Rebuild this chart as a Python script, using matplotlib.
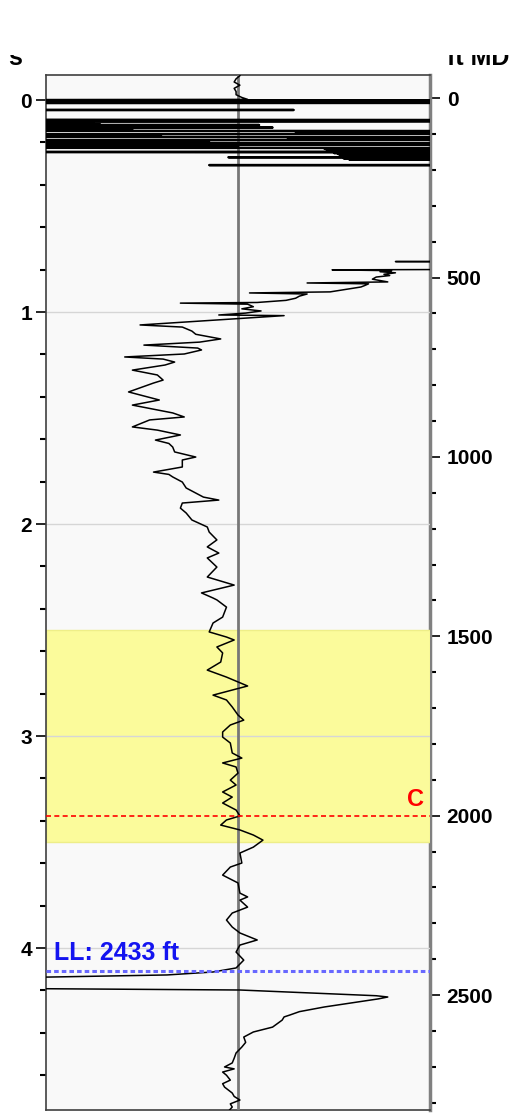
import numpy as np
import matplotlib.pyplot as plt
from matplotlib.patches import Rectangle
from matplotlib.ticker import MultipleLocator, FixedLocator

plt.rcParams['font.family'] = ['Liberation Sans', 'DejaVu Sans']

# log readings as (time s, amplitude); amplitude axis runs -100..100
head = [(-0.115, 1), (-0.100, -1), (-0.085, -2), (-0.070, 1), (-0.055, -2),
        (-0.040, -1), (-0.025, -1), (-0.012, 2), (-0.003, 5)]

# shallow noisy zone, values far outside the track
spikes = [(0.000, -300), (0.0015, 300), (0.003, -300), (0.0045, 300), (0.006, -300),
          (0.0075, 300), (0.009, -300), (0.0105, 300), (0.012, -300), (0.0135, 300),
          (0.015, -300),
          (0.045, -300), (0.047, 29), (0.049, -300),
          (0.092, -300), (0.095, 300), (0.100, 300), (0.104, -300),
          (0.106, -78), (0.108, -300), (0.110, -75), (0.112, -300), (0.114, -72),
          (0.116, -300), (0.118, 11), (0.120, -300), (0.122, -70), (0.124, -300),
          (0.126, -68), (0.128, -300), (0.130, 18), (0.132, -300), (0.134, -65),
          (0.136, -300), (0.138, -60), (0.140, -300), (0.142, -55), (0.144, -300),
          (0.147, 300), (0.149, 49), (0.151, 300), (0.153, 45), (0.155, 300),
          (0.157, 30), (0.159, 300),
          (0.161, -300), (0.163, -46), (0.165, -300), (0.167, -44), (0.169, -300),
          (0.171, -40), (0.173, -300),
          (0.175, 300), (0.177, 28), (0.179, 300), (0.181, 26), (0.183, 300),
          (0.185, 30), (0.187, 300),
          (0.189, -300), (0.191, -30), (0.193, -300), (0.195, -20), (0.197, -300),
          (0.199, -15), (0.201, -300),
          (0.203, 300), (0.205, 40), (0.207, 300), (0.209, 45), (0.211, 300),
          (0.213, -300), (0.215, -8), (0.217, -300), (0.219, -6), (0.221, -300),
          (0.223, 0), (0.225, -300),
          (0.227, 300), (0.229, 45), (0.231, 300), (0.233, 46), (0.235, 300),
          (0.237, 48), (0.239, 300), (0.241, 47), (0.243, 300),
          (0.245, -300), (0.248, 300),
          (0.250, 50), (0.252, 300), (0.254, 52), (0.256, 300), (0.258, 55),
          (0.260, 300), (0.262, 53), (0.264, 300), (0.266, 56), (0.268, 300),
          (0.270, -5), (0.272, 300), (0.275, 55), (0.278, 300), (0.281, 58),
          (0.284, 300), (0.305, 300), (0.307, -15), (0.309, 300), (0.760, 300)]

sawtooth = [(0.762, 82), (0.765, 300), (0.795, 300), (0.801, 49), (0.805, 80),
            (0.810, 74), (0.815, 82), (0.822, 76), (0.828, 79), (0.835, 72),
            (0.845, 70), (0.858, 78), (0.863, 36), (0.867, 68), (0.875, 66),
            (0.882, 64), (0.905, 48), (0.910, 6), (0.915, 36), (0.925, 32),
            (0.935, 30), (0.945, 25), (0.955, 10), (0.958, -30), (0.963, 5),
            (0.975, 8), (0.985, 2), (0.995, 12), (1.005, 4), (1.014, -10),
            (1.017, 24), (1.061, -51)]

trace = [(1.071, -29), (1.090, -24), (1.105, -22), (1.127, -9), (1.142, -20),
         (1.156, -49), (1.170, -21), (1.179, -19), (1.198, -28), (1.212, -59),
         (1.222, -39), (1.236, -33), (1.250, -38), (1.274, -55), (1.297, -42),
         (1.321, -39), (1.335, -44), (1.377, -57), (1.415, -41), (1.439, -55),
         (1.476, -34), (1.495, -28), (1.509, -46), (1.542, -55), (1.557, -42),
         (1.580, -30), (1.604, -43), (1.620, -36), (1.637, -34), (1.660, -33),
         (1.684, -22), (1.698, -29), (1.731, -29), (1.755, -44), (1.766, -36),
         (1.778, -34), (1.802, -29), (1.830, -27), (1.873, -18), (1.887, -10),
         (1.901, -29), (1.925, -30), (1.948, -27), (1.981, -24), (2.014, -16),
         (2.038, -15), (2.075, -11), (2.108, -16), (2.137, -10), (2.160, -16),
         (2.203, -11), (2.250, -16), (2.288, -2), (2.325, -19), (2.349, -13),
         (2.358, -11), (2.392, -6), (2.439, -8), (2.467, -13), (2.509, -15),
         (2.533, -6), (2.547, -2), (2.580, -11), (2.608, -8), (2.651, -9),
         (2.689, -16), (2.722, -6), (2.745, 0), (2.764, 5), (2.783, -3),
         (2.807, -13), (2.830, -6), (2.863, -3), (2.901, 0), (2.925, 3),
         (2.948, -4), (2.981, -8), (3.005, -8), (3.033, -4), (3.080, -3),
         (3.104, 2), (3.127, -8), (3.146, -1), (3.175, 0), (3.208, -4),
         (3.231, -1), (3.264, -8), (3.288, -3), (3.316, -8), (3.349, -1),
         (3.377, 1), (3.396, -6), (3.420, -9), (3.443, 1), (3.467, 8),
         (3.491, 13), (3.524, 8), (3.552, 1), (3.599, 2), (3.618, -4),
         (3.656, -8), (3.693, 0), (3.741, 1), (3.759, 5), (3.774, 1),
         (3.807, 5), (3.835, -3), (3.868, -6), (3.901, -3), (3.929, 1),
         (3.962, 10), (3.986, 1), (4.019, -1), (4.057, 3), (4.094, -1)]

tail = [(4.113, -13), (4.127, -37), (4.137, -99), (4.145, -300), (4.180, -300),
        (4.198, 1), (4.215, 45), (4.225, 72), (4.231, 78), (4.240, 73),
        (4.255, 62), (4.278, 45), (4.300, 32), (4.316, 27), (4.325, 24),
        (4.340, 23), (4.373, 18), (4.396, 8), (4.420, 3), (4.445, 4),
        (4.467, 2), (4.495, -1), (4.520, -2), (4.542, -3), (4.561, -7),
        (4.570, -2), (4.585, -8), (4.600, -6), (4.623, -4), (4.640, -8),
        (4.656, -7), (4.684, -3), (4.700, -2), (4.717, 1), (4.735, -4),
        (4.750, -3), (4.770, -5)]

time_ticks = [0, 1, 2, 3, 4]
depth_ticks = [0, 500, 1000, 1500, 2000, 2500]
zone_top, zone_base = 2.5, 3.5
marker_c_ft = 2000
ll_ft = 2433


# time-depth relation for the right axis
def t_to_ft(t):
    return 591.0 * np.asarray(t) + 5.0


def ft_to_t(d):
    return (np.asarray(d) - 5.0) / 591.0


log = np.array(head + spikes + sawtooth + trace + tail)
noisy = np.array(spikes)

fig = plt.figure(figsize=(5.14, 11.13), dpi=100)
ax = fig.add_axes([46 / 514, 3 / 1113, 384 / 514, 1035 / 1113])
ax.set_facecolor('#f9f9f9')
ax.set_xlim(-100, 100)
ax.set_ylim(4.764, -0.118)

ax.axhspan(zone_top, zone_base, facecolor='#fbfb9b', edgecolor='#eeee88', lw=1, zorder=1)
for t in time_ticks[1:]:
    ax.axhline(t, color='#d6d6d6', lw=1, zorder=2)
ax.axvline(0, color='#777777', lw=2, zorder=3)
ax.plot(log[:, 1], log[:, 0], color='black', lw=1.1, zorder=4)
# the shallow noise reads as solid blocks
ax.plot(noisy[:, 1], noisy[:, 0], color='black', lw=1.7, zorder=4)

c_t = float(ft_to_t(marker_c_ft))
ax.axhline(c_t, color='red', ls=(0, (3, 2)), lw=1.2, zorder=5)
ax.text(97, c_t - 0.047, 'C', color='red', fontsize=17, fontweight='bold',
        ha='right', va='baseline', zorder=6)

ll_t = float(ft_to_t(ll_ft))
ax.axhline(ll_t, color='#6868ff', ls=(0, (1.5, 1)), lw=2.2, zorder=5)
ax.text(-96, ll_t - 0.052, f'LL: {ll_ft} ft', color='#1414f0', fontsize=18,
        fontweight='bold', ha='left', va='baseline', zorder=6)

# left axis (time)
ax.set_xticks([])
ax.yaxis.set_major_locator(FixedLocator(time_ticks))
ax.yaxis.set_minor_locator(MultipleLocator(0.2))
ax.tick_params(axis='y', which='major', length=7, width=1.2, pad=3, labelsize=15)
ax.tick_params(axis='y', which='minor', length=4, width=1.5)
for lab in ax.get_yticklabels():
    lab.set_fontweight('bold')
for s in ['left', 'top', 'bottom']:
    ax.spines[s].set_color('#404040')
    ax.spines[s].set_linewidth(1.2)
ax.spines['right'].set_visible(False)

# right axis (measured depth)
sec = ax.secondary_yaxis('right', functions=(t_to_ft, ft_to_t))
sec.yaxis.set_major_locator(FixedLocator(depth_ticks))
sec.yaxis.set_minor_locator(MultipleLocator(100))
sec.tick_params(axis='y', which='major', length=7, width=1.2, pad=5, labelsize=15)
sec.tick_params(axis='y', which='minor', length=4, width=1.5)
for lab in sec.get_yticklabels():
    lab.set_fontweight('bold')
sec.spines['right'].set_color('#808080')
sec.spines['right'].set_linewidth(2.5)

fig.text(8 / 514, 1 - 65 / 1113, 's', fontsize=18, fontweight='bold', va='baseline')
fig.text(447 / 514, 1 - 65 / 1113, 'ft MD', fontsize=18, fontweight='bold', va='baseline')
fig.patches.append(Rectangle((0, 1 - 55 / 1113), 1, 55 / 1113, transform=fig.transFigure,
                             facecolor='white', edgecolor='none', zorder=10))

fig.savefig('out.png', dpi=100)
